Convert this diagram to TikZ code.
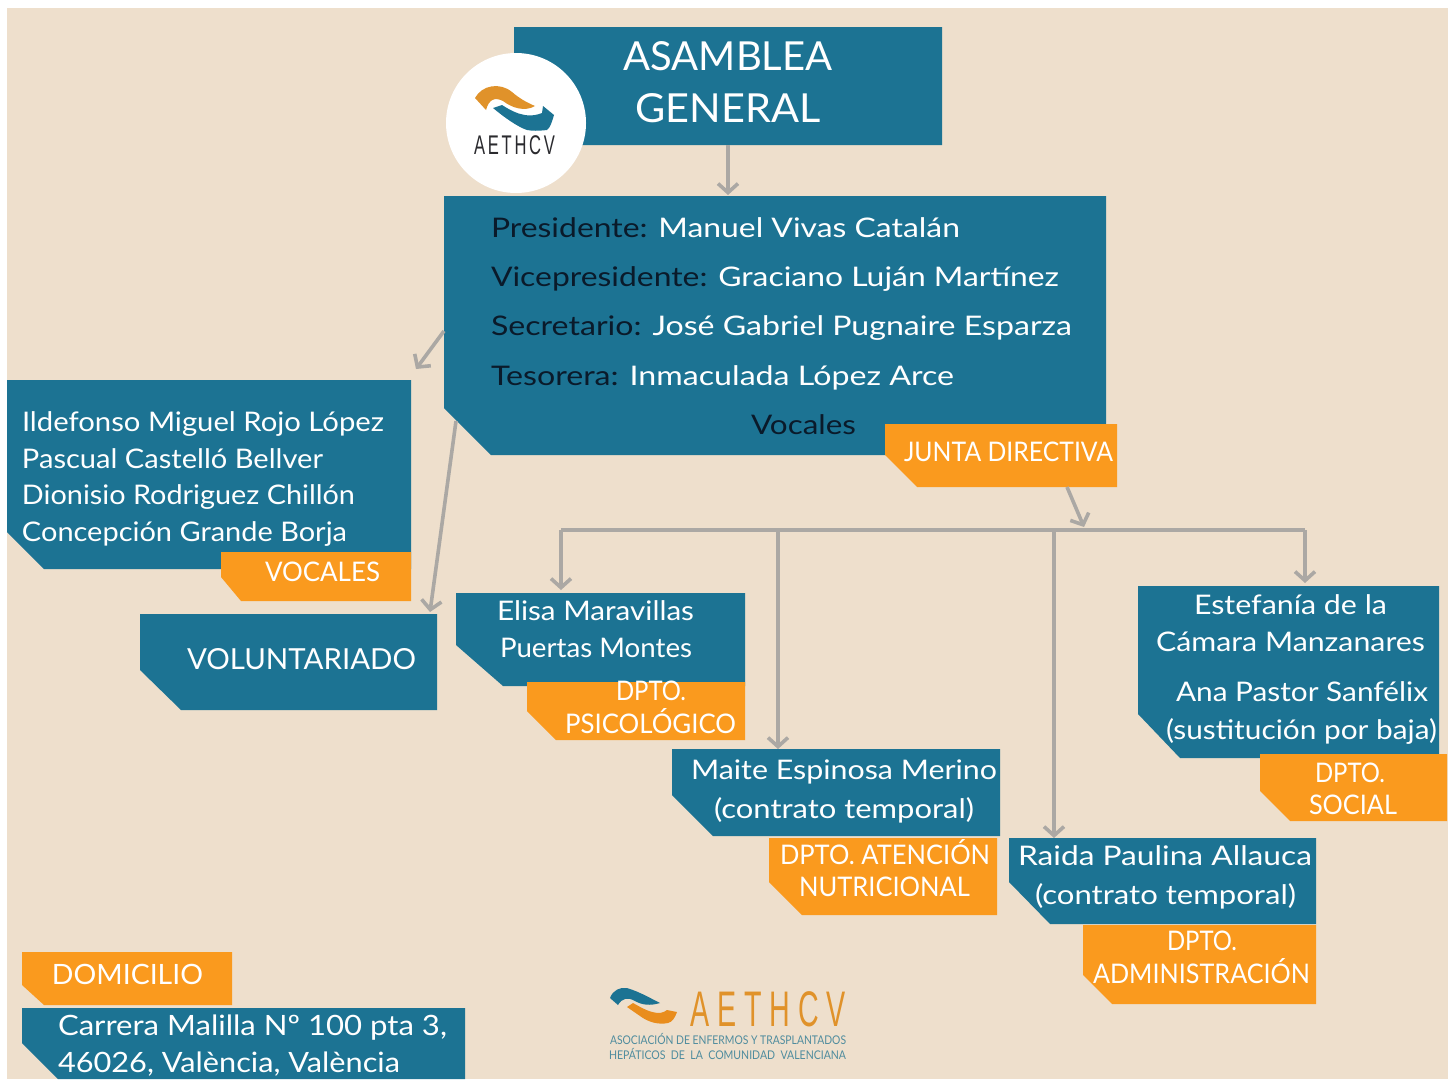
\documentclass[tikz,border=0pt]{standalone}
\usepackage{graphicx}
\usepackage{fontspec}
\setmainfont{Lato}
\newfontfamily\logofont{Liberation Sans}
\usetikzlibrary{arrows.meta,calc}
\definecolor{teal1}{HTML}{1C7393}
\definecolor{orange1}{HTML}{FA9A1E}
\definecolor{beige1}{HTML}{EEDFCC}
\definecolor{gray1}{HTML}{ABA8A4}
\definecolor{ink1}{HTML}{0A1A2A}
\definecolor{logoink}{HTML}{2A2A2E}
\definecolor{logoorg}{HTML}{E0922A}
\definecolor{logosmall}{HTML}{4F8C9E}
\tikzset{
  conn/.style={draw=gray1,line width=3.6pt,-{Straight Barb[length=9pt,width=20pt,line width=3.6pt]}},
  bus/.style={draw=gray1,line width=3.6pt},
  lab/.style={anchor=base west,inner sep=0pt,outer sep=0pt,text=white},
  area/.style={inner sep=0pt,outer sep=0pt,anchor=north west},
}
% name, x1, y1, x2, y2, chamfer dx, chamfer dy, colour
\newcommand{\cbox}[8]{%
  \fill[#8] (#2,#3) -- (#4,#3) -- (#4,#5) -- ({#2+#6},#5) -- (#2,{#5-#7}) -- cycle;
  \node[area,minimum width={(#4-#2)*1pt},minimum height={(#5-#3)*1pt}] (#1) at (#2,#3) {};
}
% name, x left, x right, baseline, size, text
\newcommand{\lbl}[6]{%
  \node[lab] (#1) at (#2,#4) {\resizebox{\dimexpr(#3pt-#2pt)\relax}{\height}{\fontsize{#5}{#5}\selectfont #6}};
}
\newcommand{\dk}[1]{\textcolor{ink1}{#1}}
\begin{document}
\begin{tikzpicture}[x=1pt,y=-1pt]
\useasboundingbox (0,0) rectangle (1456,1079);
\fill[white] (0,0) rectangle (1456,1079);
\fill[beige1] (7,8) rectangle (1448,1079);

% boxes
\cbox{asam}{514}{27}{942}{145}{0}{0}{teal1}
\cbox{jd}{444}{196}{1106}{455}{47}{47}{teal1}
\cbox{jdl}{885}{424}{1117}{487}{32}{32}{orange1}
\cbox{voc}{7}{380}{411}{569}{37}{37}{teal1}
\cbox{vocl}{221}{552}{411}{601}{20}{24}{orange1}
\cbox{vol}{140}{614}{437}{710}{41}{40}{teal1}
\cbox{eli}{456}{593}{745}{686}{47}{41}{teal1}
\cbox{psi}{527}{682}{745}{740}{29}{29}{orange1}
\cbox{mai}{672}{749}{1000}{836}{41}{41}{teal1}
\cbox{nut}{769}{838}{997}{915}{33}{33}{orange1}
\cbox{rai}{1009}{838}{1316}{924}{41}{42}{teal1}
\cbox{adm}{1083}{925}{1316}{1004}{29}{29}{orange1}
\cbox{est}{1138}{586}{1439}{758}{42}{44}{teal1}
\cbox{soc}{1260}{754}{1447}{821}{30}{30}{orange1}
\cbox{dom}{22}{952}{232}{1005}{22}{20}{orange1}
\cbox{car}{22}{1008}{465}{1079}{36}{36}{teal1}

% connectors
\coordinate (busL) at (561,530);
\coordinate (busM) at (778,530);
\coordinate (busN) at (1054,530);
\coordinate (busR) at (1305,530);
\coordinate (busJ) at (1084,527);
\draw[conn,shorten >=1pt] (asam.south) -- (asam.south |- jd.north);
\draw[conn] ([yshift=-135pt]jd.north west) -- ([xshift=5pt,yshift=11pt]voc.north east);
\draw[conn] ([xshift=12pt,yshift=34pt]jd.south west) -- ([xshift=-7pt,yshift=2pt]vol.north east);
\draw[conn] ([xshift=66pt]jdl.south) -- (busJ);
\draw[bus] (busL) -- (busR);
\draw[conn,shorten >=3pt] (busL) -- (busL |- eli.north);
\draw[conn] (busM) -- (busM |- mai.north);
\draw[conn] (busN) -- (busN |- rai.north);
\draw[conn,shorten >=3pt] (busR) -- (busR |- est.north);

% logo badge
\node[circle,fill=white,minimum size=140pt,inner sep=0pt] (badge) at (516,123) {};
\fill[logoorg] (475,98) .. controls (482,85) and (500,82) .. (512,92) .. controls (520,99) and (528,103) .. (535,106) .. controls (525,112) and (512,108) .. (503,101) .. controls (495,97) and (489,99) .. (486,110) -- cycle;
\fill[teal1] (493,108) -- (502,105) .. controls (510,110) and (525,120) .. (542,113) -- (543,106) -- (554,115) .. controls (552,122) and (550,128) .. (547,130) .. controls (538,131) and (532,131) .. (527,130) .. controls (518,127) and (505,118) .. (493,108) -- cycle;
\node[lab,text=logoink] (badget) at (474,154) {\resizebox{81pt}{\height}{\logofont\fontsize{27}{27}\selectfont A\,E\,T\,H\,C\,V}};

% labels
\node[lab,anchor=base] (asamt1) at (728,70) {\resizebox{209pt}{\height}{\fontsize{40}{40}\selectfont ASAMBLEA}};
\node[lab,anchor=base] (asamt2) at (728,122) {\resizebox{185pt}{\height}{\fontsize{40}{40}\selectfont GENERAL}};

\lbl{t1}{491}{960}{237}{27}{\dk{Presidente:} Manuel Vivas Catalán}
\lbl{t2}{491}{1059}{286}{27}{\dk{Vicepresidente:} Graciano Luján Martínez}
\lbl{t3}{491}{1072}{335}{27}{\dk{Secretario:} José Gabriel Pugnaire Esparza}
\lbl{t4}{491}{954}{385}{27}{\dk{Tesorera:} Inmaculada López Arce}
\lbl{t5}{751}{856}{434}{27}{\dk{Vocales}}
\lbl{t6}{904}{1113}{461}{27}{JUNTA DIRECTIVA}

\lbl{v1}{22}{384}{431}{27}{Ildefonso Miguel Rojo López}
\lbl{v2}{22}{323}{468}{27}{Pascual Castelló Bellver}
\lbl{v3}{22}{355}{504}{27}{Dionisio Rodriguez Chillón}
\lbl{v4}{22}{347}{541}{27}{Concepción Grande Borja}
\lbl{v5}{265}{380}{581}{27}{VOCALES}
\lbl{vo}{187}{416}{669}{29}{VOLUNTARIADO}

\lbl{e1}{497}{694}{620}{27}{Elisa Maravillas}
\lbl{e2}{500}{692}{657}{27}{Puertas Montes}
\lbl{e3}{616}{686}{700}{27}{DPTO.}
\lbl{e4}{565}{736}{733}{27}{PSICOLÓGICO}

\lbl{m1}{691}{997}{779}{27}{Maite Espinosa Merino}
\lbl{m2}{714}{974}{818}{27}{(contrato temporal)}
\lbl{m3}{780}{990}{864}{27}{DPTO. ATENCIÓN}
\lbl{m4}{799}{970}{896}{27}{NUTRICIONAL}

\lbl{r1}{1018}{1312}{865}{27}{Raida Paulina Allauca}
\lbl{r2}{1035}{1296}{904}{27}{(contrato temporal)}
\lbl{r3}{1167}{1237}{950}{27}{DPTO.}
\lbl{r4}{1093}{1310}{983}{27}{ADMINISTRACIÓN}

\lbl{s1}{1194}{1387}{614}{27}{Estefanía de la}
\lbl{s2}{1156}{1425}{651}{27}{Cámara Manzanares}
\lbl{s3}{1176}{1428}{701}{27}{Ana Pastor Sanfélix}
\lbl{s4}{1166}{1437}{739}{27}{(sustitución por baja)}
\lbl{s5}{1315}{1385}{782}{27}{DPTO.}
\lbl{s6}{1309}{1397}{814}{27}{SOCIAL}

\lbl{d1}{52}{203}{984}{28}{DOMICILIO}
\lbl{d2}{58}{447}{1035}{28}{Carrera Malilla Nº 100 pta 3,}
\lbl{d3}{58}{400}{1072}{28}{46026, València, València}

% bottom logo
\fill[teal1] (610,998) .. controls (613,990) and (620,987) .. (627,988) .. controls (640,992) and (650,998) .. (660,1003) .. controls (650,1006) and (642,1005) .. (635,1001) .. controls (628,997) and (622,998) .. (618,1005) -- cycle;
\fill[logoorg!70!orange] (627,1007) -- (633,1003) .. controls (642,1008) and (650,1013) .. (660,1013) .. controls (664,1012) and (666,1011) .. (667,1010) -- (677,1012) .. controls (675,1018) and (672,1022) .. (668,1023) .. controls (658,1025) and (648,1022) .. (640,1016) -- cycle;
\node[lab,text=logoorg] (logot) at (690,1026) {\resizebox{156pt}{\height}{\logofont\fontsize{50}{50}\selectfont A E T H C V}};
\node[lab,text=logosmall] (logos1) at (610,1044) {\resizebox{236pt}{\height}{\fontsize{12}{12}\selectfont ASOCIACIÓN DE ENFERMOS Y TRASPLANTADOS}};
\node[lab,text=logosmall] (logos2) at (609,1059) {\resizebox{237pt}{\height}{\fontsize{12}{12}\selectfont HEPÁTICOS\ \ DE\ \ LA\ \ COMUNIDAD\ \ VALENCIANA}};
\end{tikzpicture}
\end{document}
